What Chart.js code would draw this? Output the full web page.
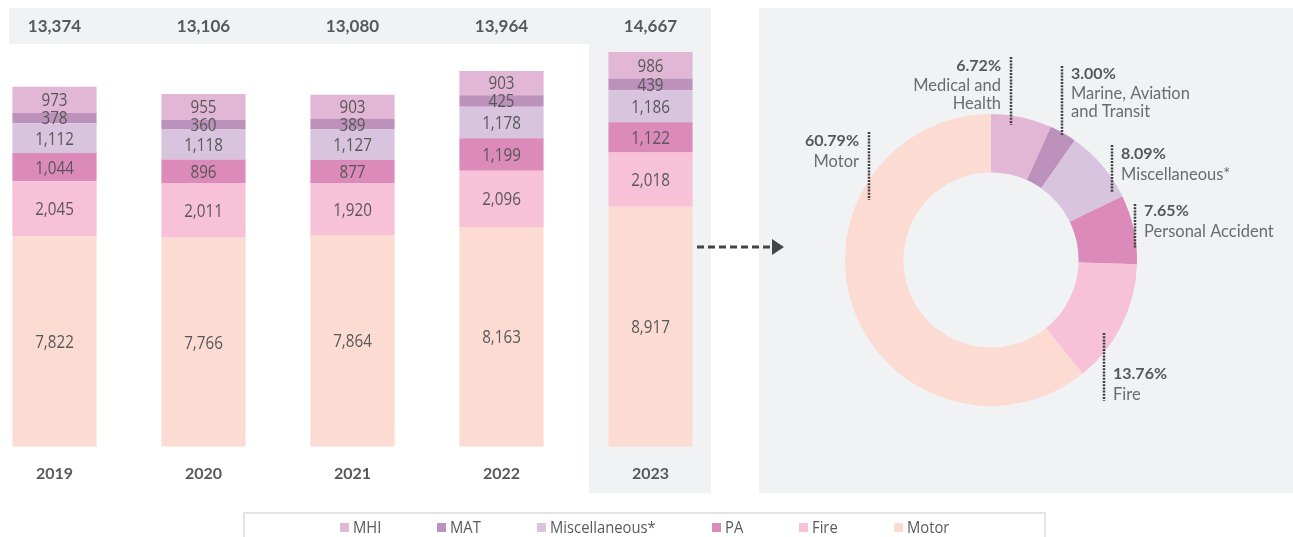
<!DOCTYPE html>
<html>
<head>
<meta charset="utf-8">
<script src="https://cdn.jsdelivr.net/npm/chart.js@4.4.1/dist/chart.umd.min.js"></script>
<style>
  html, body { margin: 0; padding: 0; background: #fff; }
  #wrap { position: relative; width: 1293px; height: 537px; overflow: hidden; background: #fff; }
  .panel { position: absolute; background: #f1f2f4; }
  #barChart { position: absolute; left: -20px; top: 0; }
  #pieChart { position: absolute; left: 758px; top: 8px; }
  #arrow { position: absolute; left: 690px; top: 236px; }
  #legend {
    position: absolute; left: 243px; top: 512px; width: 799px; height: 24px;
    border: 2px solid #e4e4e4; border-bottom: none;
    display: flex; justify-content: center; align-items: center; gap: 56px;
    font: 17px "Open Sans", sans-serif; color: #5a5a5a;
  }
  #legend span.item { display: flex; align-items: center; white-space: nowrap; }
  #legend span.box { display: inline-block; width: 9px; height: 9px; margin-right: 4px; margin-top: 2px; }
  #legend span.txt { display: inline-block; transform: scaleX(0.87); transform-origin: left center; }
</style>
</head>
<body>
<div id="wrap">
  <div class="panel" style="left:9px;top:8px;width:702px;height:36px"></div>
  <div class="panel" style="left:589px;top:8px;width:122px;height:485px"></div>
  <div class="panel" style="left:759px;top:8px;width:534px;height:485px"></div>
  <canvas id="barChart" width="745" height="537"></canvas>
  <canvas id="pieChart" width="535" height="485"></canvas>
  <svg id="arrow" width="100" height="22">
    <line x1="7" y1="11" x2="84" y2="11" stroke="#444" stroke-width="3" stroke-dasharray="7,4"/>
    <polygon points="82,3 94,11 82,19" fill="#444"/>
  </svg>
  <div id="legend"></div>
</div>
<script>
// premiums by segment (Rs crore), bottom of stack first
var years = ['2019', '2020', '2021', '2022', '2023'];
var motor = [7822, 7766, 7864, 8163, 8917];
var fire = [2045, 2011, 1920, 2096, 2018];
var pa = [1044, 896, 877, 1199, 1122];
var misc = [1112, 1118, 1127, 1178, 1186];
var mat = [378, 360, 389, 425, 439];
var mhi = [973, 955, 903, 903, 986];
var totals = [13374, 13106, 13080, 13964, 14667];

// 2023 share, clockwise from the top
var shareNames = [['Medical and', 'Health'], ['Marine, Aviation', 'and Transit'], ['Miscellaneous*'], ['Personal Accident'], ['Fire'], ['Motor']];
var sharePct = [6.72, 3.00, 8.09, 7.65, 13.76, 60.79];

var colors = {
    mhi: '#e2b7d5',
    mat: '#bc92bc',
    misc: '#d8c4df',
    pa: '#db8aba',
    fire: '#f7c1d8',
    motor: '#fcdbd2'
};
var textColor = '#585858';
var squeeze = 0.8;  // no condensed face installed, so squash the value labels a bit

function fmt(v) {
    return v.toLocaleString('en-US');
}

// value labels inside the bar segments + totals in the band on top
var barLabels = {
    id: 'barLabels',
    afterDatasetsDraw: function(chart) {
        var ctx = chart.ctx;
        ctx.save();
        ctx.fillStyle = textColor;
        ctx.textAlign = 'center';
        ctx.textBaseline = 'middle';
        ctx.font = '19px "Open Sans", sans-serif';
        chart.data.datasets.forEach(function(ds, i) {
            chart.getDatasetMeta(i).data.forEach(function(bar, j) {
                ctx.save();
                ctx.translate(bar.x, (bar.y + bar.base) / 2 + 1);
                ctx.scale(squeeze, 1);
                ctx.fillText(fmt(ds.data[j]), 0, 0);
                ctx.restore();
            });
        });
        ctx.font = 'bold 17px Lato, sans-serif';
        var meta = chart.getDatasetMeta(0);
        meta.data.forEach(function(bar, j) {
            ctx.fillText(fmt(totals[j]), bar.x, 27);
        });
        ctx.restore();
    }
};

var barChart = new Chart(document.getElementById('barChart').getContext('2d'), {
    type: 'bar',
    data: {
        labels: years,
        datasets: [
            { label: 'Motor', data: motor, backgroundColor: colors.motor },
            { label: 'Fire', data: fire, backgroundColor: colors.fire },
            { label: 'PA', data: pa, backgroundColor: colors.pa },
            { label: 'Miscellaneous*', data: misc, backgroundColor: colors.misc },
            { label: 'MAT', data: mat, backgroundColor: colors.mat },
            { label: 'MHI', data: mhi, backgroundColor: colors.mhi }
        ]
    },
    options: {
        responsive: false,
        animation: false,
        categoryPercentage: 1,
        barPercentage: 0.565,
        layout: { padding: { top: 43, bottom: 37, left: 0, right: 0 } },
        plugins: {
            legend: { display: false },
            tooltip: { enabled: false }
        },
        scales: {
            x: {
                stacked: true,
                grid: { display: false, drawTicks: false },
                border: { display: false },
                ticks: {
                    padding: 17,
                    color: textColor,
                    font: { family: 'Lato', size: 16, weight: 'bold' }
                }
            },
            y: {
                stacked: true,
                display: false,
                min: 0,
                max: 15000
            }
        }
    },
    plugins: [barLabels]
});

// percentage call-outs with dotted leaders, placed relative to the doughnut centre
var calloutPos = [
    { lx: 20, y1: -203, y2: -135, side: 'left', ty: -194 },
    { lx: 71, y1: -194, y2: -125, side: 'right', ty: -186 },
    { lx: 121, y1: -115, y2: -67, side: 'right', ty: -106 },
    { lx: 144, y1: -56, y2: -12, side: 'right', ty: -49 },
    { lx: 113, y1: 73, y2: 141, side: 'right', ty: 114 },
    { lx: -122, y1: -128, y2: -60, side: 'left', ty: -119 }
];

var callouts = {
    id: 'callouts',
    afterDatasetsDraw: function(chart) {
        var ctx = chart.ctx;
        var arcs = chart.getDatasetMeta(0).data;
        ctx.save();
        arcs.forEach(function(arc, i) {
            var p = calloutPos[i];
            var cx = arc.x, cy = arc.y;
            var x = cx + p.lx;
            ctx.strokeStyle = '#3f3f3f';
            ctx.lineWidth = 2.5;
            ctx.setLineDash([2, 1.2]);
            ctx.beginPath();
            ctx.moveTo(x, cy + p.y1);
            ctx.lineTo(x, cy + p.y2);
            ctx.stroke();

            var tx = p.side === 'left' ? x - 10 : x + 9;
            ctx.textAlign = p.side === 'left' ? 'right' : 'left';
            ctx.textBaseline = 'middle';
            ctx.fillStyle = textColor;
            ctx.font = 'bold 16px Lato, sans-serif';
            ctx.fillText(sharePct[i].toFixed(2) + '%', tx, cy + p.ty);
            ctx.font = '16.5px Lato, sans-serif';
            ctx.fillStyle = '#6c6c6c';
            var gap = shareNames[i].length > 1 ? 20 : 21;
            shareNames[i].forEach(function(line, k) {
                ctx.fillText(line, tx, cy + p.ty + gap + k * 18);
            });
        });
        ctx.restore();
    }
};

var pieChart = new Chart(document.getElementById('pieChart').getContext('2d'), {
    type: 'doughnut',
    data: {
        labels: shareNames.map(function(n) { return n.join(' '); }),
        datasets: [{
            data: sharePct,
            backgroundColor: [colors.mhi, colors.mat, colors.misc, colors.pa, colors.fire, colors.motor],
            borderWidth: 0
        }]
    },
    options: {
        responsive: false,
        animation: false,
        cutout: '60%',
        layout: { padding: { left: 87, top: 106, right: 156, bottom: 87 } },
        plugins: {
            legend: { display: false },
            tooltip: { enabled: false }
        }
    },
    plugins: [callouts]
});

// legend under both charts, built from the bar datasets (top of stack first)
var legendEl = document.getElementById('legend');
barChart.data.datasets.slice().reverse().forEach(function(ds) {
    var item = document.createElement('span');
    item.className = 'item';
    var box = document.createElement('span');
    box.className = 'box';
    box.style.background = ds.backgroundColor;
    var txt = document.createElement('span');
    txt.className = 'txt';
    txt.textContent = ds.label;
    item.appendChild(box);
    item.appendChild(txt);
    legendEl.appendChild(item);
    // scaleX doesn't shrink the layout box, so pull the next item back
    txt.style.marginRight = (-(1 - 0.87) * txt.offsetWidth) + 'px';
});
</script>
</body>
</html>
